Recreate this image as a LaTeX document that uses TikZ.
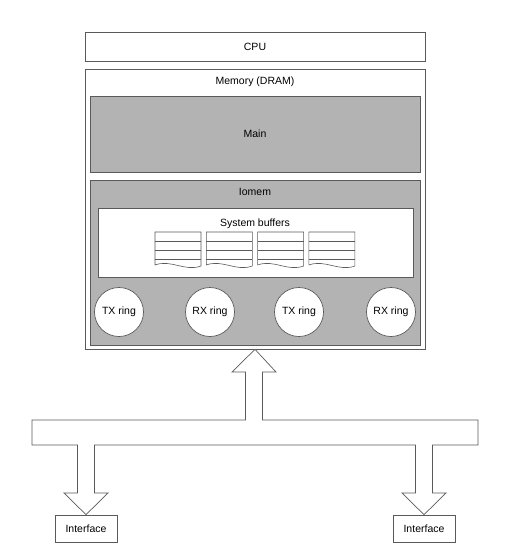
\documentclass[tikz,border=0pt]{standalone}
\usepackage{fontspec}
\setmainfont{Liberation Sans}
\usetikzlibrary{positioning}
\definecolor{memgray}{HTML}{B3B3B3}
\definecolor{edgegray}{HTML}{5A5A5A}

\begin{document}
\begin{tikzpicture}[x=1pt, y=-1pt, font=\fontsize{10.5}{12}\selectfont,
    box/.style={draw=edgegray, rectangle, inner sep=0pt, line width=0.7pt},
    graybox/.style={box, fill=memgray},
    ring/.style={draw=edgegray, circle, fill=white, minimum size=49pt, inner sep=0pt, line width=0.7pt},
    bufline/.style={draw=edgegray, line width=0.6pt},
    bus/.style={draw=edgegray, fill=white, line width=0.7pt, line join=miter}]
  \useasboundingbox (0,0) rectangle (506,560);
  % CPU and memory
  \node[box, minimum width=340pt, minimum height=29pt] (cpu) at (255,46.5) {CPU};
  \node[box, minimum width=340pt, minimum height=280pt] (mem) at (255,209) {};
  \node (memlbl) at (255,82) {Memory (DRAM)};
  \node[graybox, minimum width=330pt, minimum height=76pt] (main) at (255,134) {Main};
  \node[graybox, minimum width=330pt, minimum height=165pt] (iomem) at (255,262.5) {};
  \node (iomemlbl) at (255,192) {Iomem};
  % System buffers
  \node[box, fill=white, minimum width=315pt, minimum height=69pt] (sysbuf) at (255.5,242.5) {};
  \node (sysbuflbl) at (255,224) {System buffers};
  \foreach \i in {0,...,3} {
    \pgfmathsetmacro\bx{155+51.3*\i}
    \draw[bufline] (\bx,265) -- (\bx,232) -- ++(46,0) -- ++(0,34)
      .. controls (\bx+30,272) and (\bx+16,259) .. (\bx,265);
    \foreach \yy in {241,250,259}
      \draw[bufline] (\bx,\yy) -- ++(46,0);
  }
  % Rings
  \foreach \name/\xx/\txt in {txa/119/TX ring, rxa/210/RX ring, txb/299/TX ring, rxb/391/RX ring}
    \node[ring] (\name) at (\xx,312) {\txt};
  % Interfaces
  \node[box, minimum width=62pt, minimum height=27pt] (ifleft) at (86,528.5) {Interface};
  \node[box, minimum width=62pt, minimum height=27pt] (ifright) at (424,528.5) {Interface};
  % Bus with block arrows
  \draw[bus] (mem.south) -- (276,372) -- (262.5,372) -- (262.5,420) -- (478,420)
    -- (478,445) -- (432.5,445) -- (432.5,493) -- (446,493) -- (ifright.north)
    -- (402,493) -- (415.5,493) -- (415.5,445) -- (94.5,445) -- (94.5,493)
    -- (108,493) -- (ifleft.north) -- (64,493) -- (77.5,493) -- (77.5,445)
    -- (32,445) -- (32,420) -- (245.5,420) -- (245.5,372) -- (232,372) -- cycle;
\end{tikzpicture}
\end{document}
